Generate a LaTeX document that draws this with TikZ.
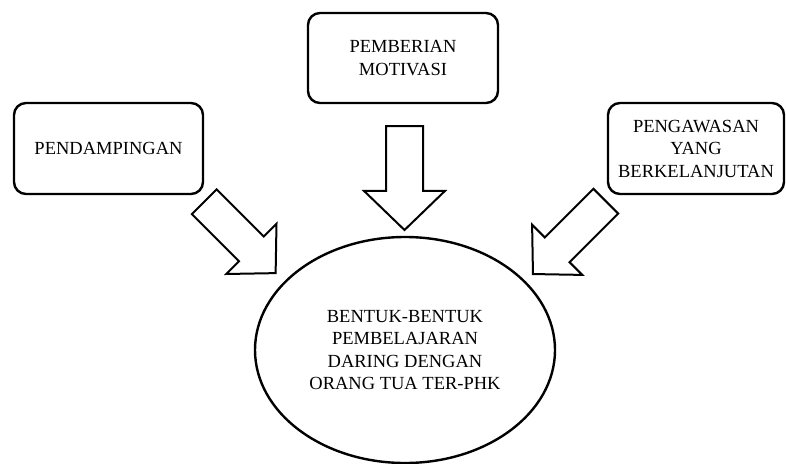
\documentclass[tikz,border=0pt]{standalone}
\usepackage{fontspec}
\setmainfont{Liberation Serif}
\usetikzlibrary{shapes.geometric}
\usetikzlibrary{shapes.arrows}

\begin{document}
\begin{tikzpicture}[x=1pt,y=-1pt,font=\fontsize{18.5}{22.5}\selectfont,
		box/.style={draw,rounded corners=12pt,line width=2.4pt,align=center,minimum height=91pt,inner sep=0pt},
		blk/.style={draw,single arrow,line width=2pt,inner xsep=0pt,single arrow tip angle=92,anchor=tail},
		goal/.style={draw,ellipse,line width=2.4pt,align=center,minimum width=300pt,minimum height=226pt,inner sep=0pt}]
		\useasboundingbox (0,0) rectangle (786,463);
   		\node[box,minimum width=189pt] (b_0) at (108.5,148.5) {PENDAMPINGAN};
  		\node[box,minimum width=190pt,minimum height=90pt] (b_1) at (403,58) {PEMBERIAN\\MOTIVASI};
  		\node[box,minimum width=176pt] (b_2) at (696,148.5) {PENGAWASAN\\YANG\\BERKELANJUTAN};
  		\node[goal] (e_0) at (405,350) {BENTUK-BENTUK\\PEMBELAJARAN\\DARING DENGAN\\ORANG TUA TER-PHK};
    	\node[blk,minimum height=104pt,inner ysep=17.5pt,single arrow head extend=22pt,rotate=-90] (a_1) at (404.5,125) {};
    	\node[blk,minimum height=101pt,inner ysep=16.5pt,single arrow head extend=18pt,rotate=-45] (a_0) at (203.5,201) {};
    	\node[blk,minimum height=103pt,inner ysep=16.5pt,single arrow head extend=18pt,rotate=-135] (a_2) at (606.5,200.5) {};
 	\end{tikzpicture}
\end{document}
